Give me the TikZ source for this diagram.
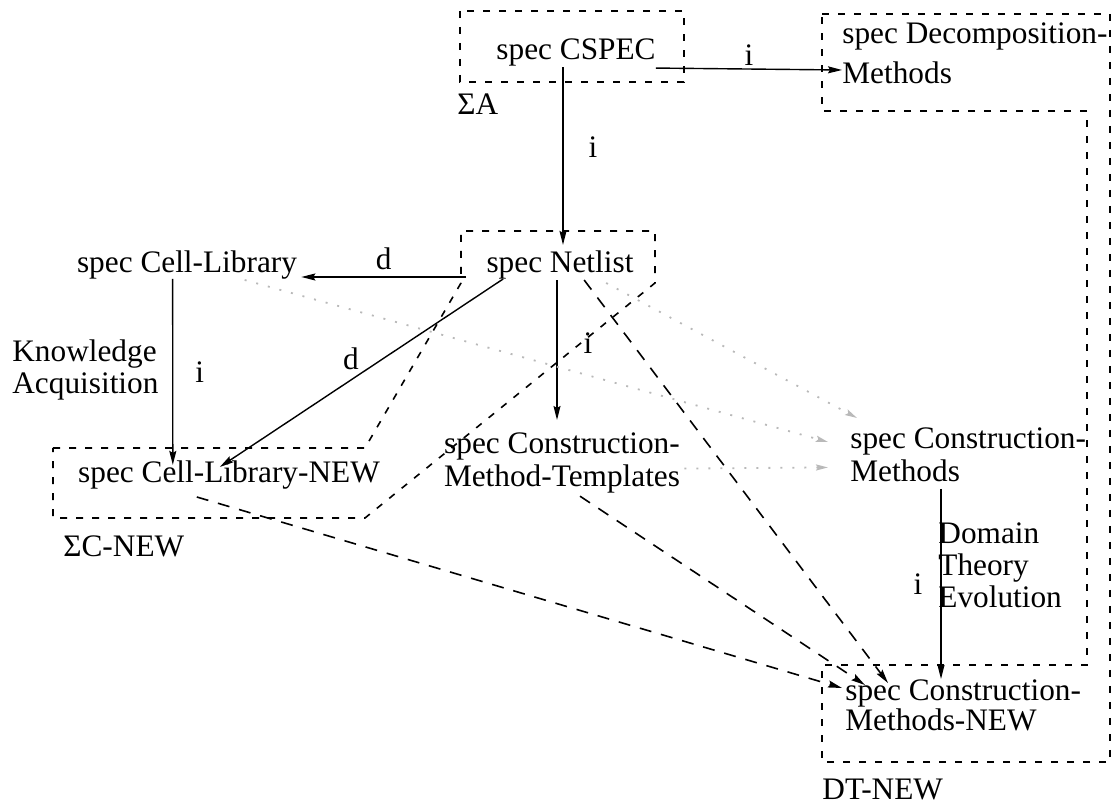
\documentclass[tikz,border=0pt]{standalone}
\usepackage{fontspec}
\setmainfont{Liberation Serif}
\usetikzlibrary{arrows.meta}
\begin{document}
\begin{tikzpicture}[x=0.5pt,y=-0.5pt,
  lbl/.style={inner sep=0pt, font=\fontsize{15.65pt}{15pt}\selectfont},
  multi/.style={lbl, align=left},
  region/.style={line width=0.8pt, dash pattern=on 3.5pt off 4.5pt},
  solidarr/.style={line width=0.7pt, -{Stealth[length=7pt,width=3.5pt,inset=1pt]}},
  dasharr/.style={line width=0.8pt, dash pattern=on 6pt off 5pt, -{Stealth[length=7pt,width=3.5pt,inset=1pt]}},
  grayarr/.style={gray!55, line width=0.9pt, dash pattern=on 1pt off 5pt, -{Stealth[length=6pt,width=3pt,inset=1pt]}}
]
\useasboundingbox (0,0) rectangle (1115,806);

% specifications
\node[lbl, anchor=base] (cspec) at (576,60) {spec CSPEC};
\node[multi, anchor=north west] (decomp) at (842,22) {spec Decomposition-\\[5pt]Methods};
\node[lbl, anchor=base] (cellib) at (187,273) {spec Cell-Library};
\node[lbl, anchor=base] (netlist) at (560,273) {spec Netlist};
\node[lbl, align=center, anchor=north] (templates) at (562,432) {spec Construction-\\[1.5pt]Method-Templates};
\node[multi, anchor=north west] (consmeth) at (850,427) {spec Construction-\\[1.5pt]Methods};
\node[lbl, anchor=base] (cellnew) at (229,483) {spec Cell-Library-NEW};
\node[multi, anchor=north west] (newmeth) at (845,679) {spec Construction-\\Methods-NEW};

% region names and process names
\node[lbl, anchor=base west] (sigA) at (457,115) {ΣA};
\node[lbl, anchor=base west] (sigC) at (63,557) {ΣC-NEW};
\node[lbl, anchor=base west] (dtnew) at (822,800) {DT-NEW};
\node[multi, anchor=north west] (know) at (12,339) {Knowledge\\[1pt]Acquisition};
\node[multi, anchor=north west] (dte) at (938,522) {Domain\\[1pt]Theory\\[1pt]Evolution};

% region borders
\draw[region] (460,11) rectangle (684,82);
\draw[region] (53,448) -- (365,448) -- (461,283) -- (461,231) -- (655,231)
  -- (655,283) -- (365,518) -- (53,518) -- cycle;
\draw[region] (822,14) -- (1110,14) -- (1110,762) -- (822,762) -- (822,665)
  -- (1087,665) -- (1087,111) -- (822,111) -- cycle;

% solid morphisms
\draw[solidarr] ([yshift=-0.5pt]cspec.south east) -- ([yshift=-24pt]decomp.north west)
  node[lbl, midway, above=1.5pt] (li1) {i};
\draw[solidarr] ([xshift=1.5pt]cspec.south -| netlist.north) -- ([xshift=1.5pt,yshift=3pt]netlist.north)
  node[lbl, pos=0.45, right=12.5pt] (li2) {i};
\draw[solidarr] ([xshift=-10pt,yshift=-2pt]netlist.base west) -- ([xshift=2pt,yshift=-2pt]cellib.base east)
  node[lbl, midway, above=3pt] (ld1) {d};
\draw[solidarr] ([xshift=48pt,yshift=-3pt]cellib.base west) -- ([xshift=47.5pt,yshift=-2pt]cellnew.north west)
  node[lbl, midway, right=11pt] (li3) {i};
\draw[solidarr] ([xshift=8.5pt,yshift=-3pt]netlist.base west) -- ([xshift=71pt,yshift=8pt]cellnew.base west)
  node[lbl, pos=0.5, above left=1pt] (ld2) {d};
\draw[solidarr] ([xshift=-1.5pt]netlist.south) -- ([xshift=-2.5pt,yshift=6pt]templates.north)
  node[lbl, pos=0.45, right=13pt] (li4) {i};
\draw[solidarr] ([xshift=45.5pt,yshift=-3.5pt]consmeth.south west) -- ([xshift=48pt]newmeth.north west)
  node[lbl, midway, left=9pt] (li5) {i};

% derived dependencies
\draw[dasharr] ([xshift=59.5pt,yshift=-7pt]cellnew.base west) -- ([xshift=-1.5pt,yshift=-4.5pt]newmeth.north west);
\draw[dasharr] ([xshift=9pt,yshift=-1.5pt]templates.south) -- ([xshift=10pt,yshift=-3pt]newmeth.north west);
\draw[dasharr] ([xshift=49pt,yshift=-3.5pt]netlist.base west) -- ([xshift=21.5pt,yshift=-2pt]newmeth.north west);

% inputs of the construction methods
\draw[grayarr] ([xshift=84pt,yshift=-3.5pt]cellib.base west) -- ([xshift=-11pt,yshift=-7.5pt]consmeth.north west);
\draw[grayarr] ([xshift=60pt,yshift=-5pt]netlist.base west) -- ([xshift=3.5pt,yshift=4.5pt]consmeth.north west);
\draw[grayarr] ([xshift=2pt,yshift=-3pt]templates.east) -- ([xshift=-11pt,yshift=-6.5pt]consmeth.west);
\end{tikzpicture}
\end{document}
